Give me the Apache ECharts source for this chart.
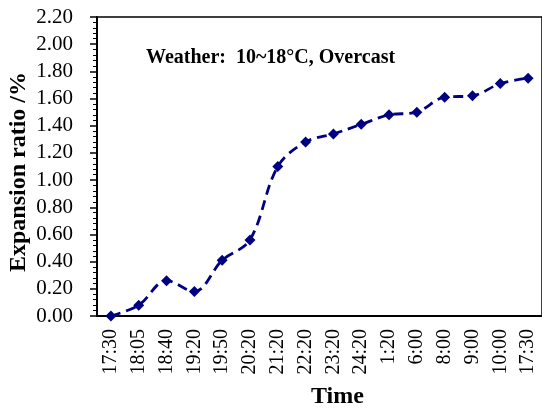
<!DOCTYPE html>
<html>
<head>
<meta charset="utf-8">
<script src="https://cdn.jsdelivr.net/npm/echarts@6/dist/echarts.min.js"></script>
<style>
html, body { margin: 0; padding: 0; background: #fff; }
#main { width: 542px; height: 408px; }
</style>
</head>
<body>
<div id="main"></div>
<script>
var times = ['17:30', '18:05', '18:40', '19:20', '19:50', '20:20', '21:20', '22:20',
             '23:20', '24:20', '1:20', '6:00', '8:00', '9:00', '10:00', '17:30'];
var ratio = [0, 0.08, 0.26, 0.18, 0.41, 0.56, 1.10, 1.28,
             1.34, 1.41, 1.48, 1.50, 1.61, 1.62, 1.71, 1.75];
var yTicks = { min: 0, max: 2.2, step: 0.2 };

var serif = '"Liberation Serif", "Times New Roman", serif';

window.onload = function () {
    var myChart = echarts.init(document.getElementById('main'));
    var option = {
        animation: false,
        grid: {
            left: 97, top: 17, right: -7, bottom: 92,
            show: true, borderColor: '#000', borderWidth: 1.5
        },
        graphic: [
            {   // note inside the plot
                type: 'text', left: 146, top: 48,
                style: { text: 'Weather:  10~18\u00B0C, Overcast', font: 'bold 20px ' + serif, fill: '#000' }
            },
            {
                type: 'text', left: 311, top: 385,
                style: { text: 'Time', font: 'bold 24px ' + serif, fill: '#000' }
            },
            {
                type: 'text', x: 7, y: 272, rotation: Math.PI / 2,
                style: { text: 'Expansion ratio /%', font: 'bold 24px ' + serif, fill: '#000' }
            }
        ],
        xAxis: {
            type: 'category',
            data: times,
            boundaryGap: true,
            axisLine: { lineStyle: { color: '#000', width: 2 } },
            axisTick: { alignWithLabel: true, length: 6, lineStyle: { color: '#000', width: 1.5 } },
            axisLabel: {
                interval: 0, rotate: 90, margin: 13,
                color: '#000', fontFamily: serif, fontSize: 20
            }
        },
        yAxis: {
            type: 'value',
            min: yTicks.min, max: yTicks.max, interval: yTicks.step,
            axisLine: { show: true, lineStyle: { color: '#000', width: 2 } },
            axisTick: { show: true, length: 7, lineStyle: { color: '#000', width: 1.5 } },
            minorTick: { show: true, splitNumber: 5, length: 4, lineStyle: { color: '#000', width: 1 } },
            splitLine: { show: false },
            axisLabel: {
                margin: 24, color: '#000', fontFamily: serif, fontSize: 21,
                formatter: function (v) { return v.toFixed(2); }
            }
        },
        series: [{
            type: 'line',
            data: ratio,
            smooth: 0.35,
            symbol: 'diamond',
            symbolSize: 11,
            itemStyle: { color: '#000080' },
            lineStyle: { color: '#000080', width: 2.8, type: [10, 6] }
        }]
    };
    myChart.setOption(option);
};
</script>
</body>
</html>
